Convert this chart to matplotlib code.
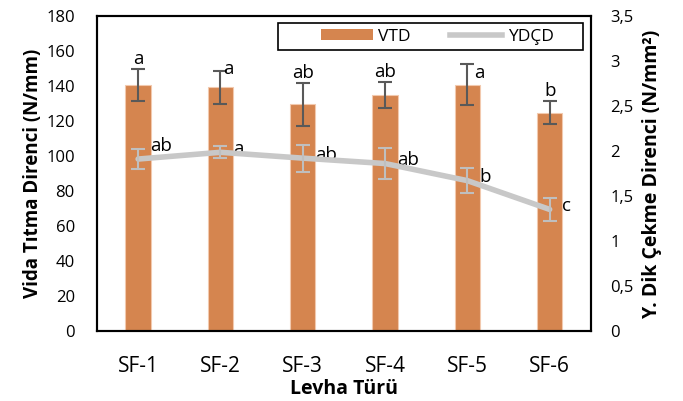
import matplotlib.pyplot as plt
import numpy as np
from matplotlib.patches import Patch, Rectangle
from matplotlib.lines import Line2D

# --- DATA ---
panels = ["SF-1", "SF-2", "SF-3", "SF-4", "SF-5", "SF-6"]
vtd = [140.7, 139.2, 129.5, 135.0, 140.7, 124.7]
vtd_err = [9.0, 9.3, 12.4, 7.5, 11.8, 6.6]
vtd_letters = ["a", "a", "ab", "ab", "a", "b"]
ydcd = [1.91, 1.985, 1.92, 1.86, 1.67, 1.35]
ydcd_err = [0.11, 0.065, 0.15, 0.175, 0.14, 0.13]
ydcd_letters = ["ab", "a", "ab", "ab", "b", "c"]

# letters that Excel pushed beside the error bar (legend in the way): (dx, dy)
side_letters = {1: (0.03, 1.5), 4: (0.08, -5)}

plt.rcParams['font.family'] = ['Open Sans', 'DejaVu Sans']

fig = plt.figure(figsize=(6.83, 4.01), dpi=100)
ax = fig.add_axes([0.142, 0.175, 0.723, 0.785])
ax2 = ax.twinx()

x = np.arange(len(panels))
bar_color = '#D5854F'
ax.bar(x, vtd, width=0.31, color=bar_color, edgecolor='#F2C9AE', linewidth=0.8, zorder=2)
ax.errorbar(x, vtd, yerr=vtd_err, fmt='none', ecolor='#595959', elinewidth=1.5,
            capsize=5, capthick=1.5, zorder=3)
for i, (xi, v, e, lab) in enumerate(zip(x, vtd, vtd_err, vtd_letters)):
    if i in side_letters:
        dx, dy = side_letters[i]
        ax.text(xi + dx, v + e + dy, lab, ha='left', va='center', fontsize=13.5)
    else:
        ax.text(xi, v + e + 0.5, lab, ha='center', va='bottom', fontsize=13.5)

ax2.plot(x, ydcd, color='#C8C8C8', linewidth=4, solid_capstyle='round', zorder=4)
ax2.errorbar(x, ydcd, yerr=ydcd_err, fmt='none', ecolor='#BFBFBF', elinewidth=1.5,
             capsize=5, capthick=1.5, zorder=5)
for i, (xi, v, lab) in enumerate(zip(x, ydcd, ydcd_letters)):
    dy = 0.15 if i == 0 else 0.04
    ax2.text(xi + 0.15, v + dy, lab, ha='left', va='center', fontsize=13.5)

ax.set_xlim(-0.5, 5.5)
ax.set_ylim(0, 180)
ax.set_yticks(range(0, 181, 20))
ax2.set_ylim(0, 3.5)
ax2.set_yticks(np.arange(0, 3.51, 0.5))
ax2.set_yticklabels([f"{t:g}".replace('.', ',') for t in np.arange(0, 3.51, 0.5)])

ax.set_xticks(x)
ax.set_xticklabels(panels)
ax.tick_params(axis='x', length=0, pad=18, labelsize=15)
ax.tick_params(axis='y', length=0, pad=16, labelsize=12)
ax2.tick_params(axis='y', length=0, pad=14, labelsize=12)

for a in (ax, ax2):
    for s in a.spines.values():
        s.set_color('black')
        s.set_linewidth(1.5)

ax.set_xlabel("Levha Türü", fontsize=14, fontweight='bold', labelpad=1.5)
ax.set_ylabel("Vida Tıtma Direnci (N/mm)", fontsize=13.5, fontweight='bold', labelpad=2)
ax2.set_ylabel("Y. Dik Çekme Direnci (N/mm²)", fontsize=14, fontweight='bold', labelpad=6)

# legend: entries without frame, box drawn separately (Excel-style wide box)
handles = [Patch(facecolor=bar_color), Line2D([0], [0], color='#C8C8C8', linewidth=4)]
leg = ax2.legend(handles, ["VTD", "YDÇD"], loc='center left', ncol=2, fontsize=12.5,
                 frameon=False, handlelength=3.0, handleheight=0.55,
                 handletextpad=0.3, columnspacing=2.3,
                 bbox_to_anchor=(0.453, 0.935), borderpad=0, borderaxespad=0)
ax2.add_patch(Rectangle((0.366, 0.892), 0.618, 0.086, transform=ax2.transAxes,
                        facecolor='white', edgecolor='black', linewidth=1.2, zorder=6))
leg.set_zorder(7)

fig.savefig("out.png", dpi=100)
